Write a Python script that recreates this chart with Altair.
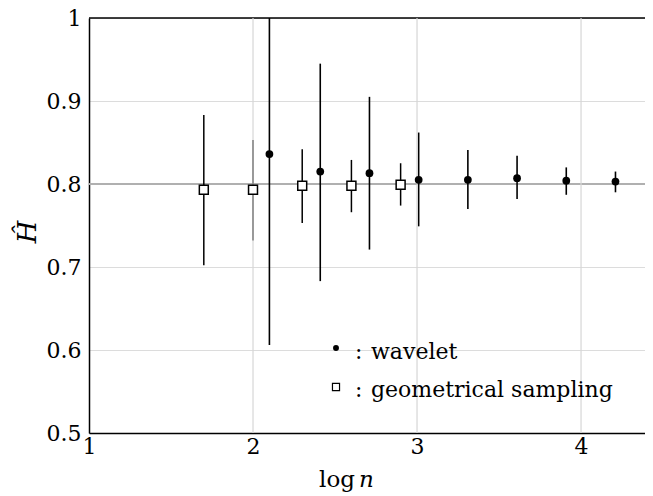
import altair as alt
import pandas as pd

# geometrical sampling estimates
geo_x = [1.70, 2.00, 2.30, 2.60, 2.90]
geo_h = [0.793, 0.793, 0.798, 0.798, 0.799]
geo_lo = [0.702, 0.732, 0.753, 0.766, 0.774]
geo_hi = [0.883, 0.853, 0.842, 0.829, 0.825]

# wavelet estimates
wav_x = [2.10, 2.41, 2.71, 3.01, 3.31, 3.61, 3.91, 4.21]
wav_h = [0.836, 0.815, 0.813, 0.805, 0.805, 0.807, 0.804, 0.803]
wav_lo = [0.606, 0.683, 0.721, 0.749, 0.770, 0.782, 0.787, 0.790]
wav_hi = [1.000, 0.945, 0.905, 0.862, 0.841, 0.834, 0.820, 0.815]

x_ticks = [1, 2, 3, 4]
y_ticks = [0.5, 0.6, 0.7, 0.8, 0.9, 1.0]
h_true = 0.8

W, H = 556, 415
FONT = "DejaVu Serif"

geo = pd.DataFrame({"x": geo_x, "h": geo_h, "lo": geo_lo, "hi": geo_hi})
wav = pd.DataFrame({"x": wav_x, "h": wav_h, "lo": wav_lo, "hi": wav_hi})

xs = alt.Scale(domain=[1, 4.39], nice=False, zero=False)
ys = alt.Scale(domain=[0.5, 1.0], nice=False, zero=False)

xax = alt.Axis(values=x_ticks, format="d", grid=False, ticks=False,
               labelFont=FONT, labelFontSize=22, labelColor="black",
               labelFlush=False, labelOverlap=False,
               labelPadding=3, domainColor="black", domainWidth=1.5, title=None)
yax = alt.Axis(values=y_ticks, format=".1~f", grid=True, gridColor="#dcdcdc",
               gridWidth=1, ticks=False, labelFont=FONT, labelFontSize=22,
               labelFlush=False, labelOverlap=False,
               labelColor="black", labelPadding=8, domainColor="black",
               domainWidth=1.5, title=None)

base_axes = alt.Chart(pd.DataFrame({"x": [1], "h": [0.5]})).mark_point(opacity=0).encode(
    x=alt.X("x:Q", scale=xs, axis=xax),
    y=alt.Y("h:Q", scale=ys, axis=yax),
)

hline = alt.Chart(pd.DataFrame({"h": [h_true]})).mark_rule(
    color="#b0b0b0", strokeWidth=2).encode(y=alt.Y("h:Q", scale=ys))

top = alt.Chart(pd.DataFrame({"h": [1.0]})).mark_rule(
    color="black", strokeWidth=1.5).encode(
    y=alt.Y("h:Q", scale=ys), x=alt.value(0), x2=alt.value(W))

bars_geo = alt.Chart(geo).mark_rule(color="black", strokeWidth=1.5, clip=True).encode(
    x=alt.X("x:Q", scale=xs), y=alt.Y("lo:Q", scale=ys), y2="hi:Q")
bars_wav = alt.Chart(wav).mark_rule(color="black", strokeWidth=1.6, clip=True).encode(
    x=alt.X("x:Q", scale=xs), y=alt.Y("lo:Q", scale=ys), y2="hi:Q")

xgrid = alt.Chart(pd.DataFrame({"x": x_ticks[1:]})).mark_rule(
    color="#d6d6d6", strokeWidth=1.2).encode(x=alt.X("x:Q", scale=xs))

pts_geo = alt.Chart(geo).mark_point(shape="square", filled=True, fill="white",
                                    stroke="black", strokeWidth=1.5, size=80,
                                    opacity=1).encode(
    x=alt.X("x:Q", scale=xs), y=alt.Y("h:Q", scale=ys))
pts_wav = alt.Chart(wav).mark_point(shape="circle", filled=True, color="black",
                                    size=60, opacity=1).encode(
    x=alt.X("x:Q", scale=xs), y=alt.Y("h:Q", scale=ys))

# legend
leg_dot = alt.Chart(pd.DataFrame({"a": [0]})).mark_point(
    shape="circle", filled=True, color="black", size=35, opacity=1).encode(
    x=alt.value(247), y=alt.value(330))
leg_sq = alt.Chart(pd.DataFrame({"a": [0]})).mark_point(
    shape="square", filled=True, fill="white", stroke="black", strokeWidth=1.2,
    size=50, opacity=1).encode(x=alt.value(247), y=alt.value(369))
leg_txt = alt.Chart(pd.DataFrame({
    "t": [":", "wavelet", ":", "geometrical sampling"],
    "px": [266, 282, 266, 282],
    "py": [334, 334, 372, 372],
})).mark_text(font=FONT, fontSize=22, align="left", baseline="middle",
              color="black").encode(
    text="t:N",
    x=alt.X("px:Q", scale=None), y=alt.Y("py:Q", scale=None))

# axis titles
xt1 = alt.Chart(pd.DataFrame({"t": ["log"]})).mark_text(
    font=FONT, fontSize=23, align="right", baseline="alphabetic", color="black").encode(
    text="t:N", x=alt.value(266), y=alt.value(469))
xt2 = alt.Chart(pd.DataFrame({"t": ["n"]})).mark_text(
    font=FONT, fontSize=23, fontStyle="italic", align="left", baseline="alphabetic",
    color="black").encode(text="t:N", x=alt.value(270), y=alt.value(469))
yt = alt.Chart(pd.DataFrame({"t": ["Ĥ"]})).mark_text(
    font=FONT, fontSize=26, fontStyle="italic", align="center", baseline="middle",
    angle=270, color="#000000").encode(text="t:N", x=alt.value(-61), y=alt.value(214))

chart = alt.layer(
    base_axes, hline, top, bars_geo, bars_wav, xgrid, pts_geo, pts_wav,
    leg_dot, leg_sq, leg_txt, xt1, xt2, yt,
).properties(
    width=W, height=H,
    autosize=alt.AutoSizeParams(type="none"),
    padding={"left": 81, "top": 10, "right": 0, "bottom": 62},
).configure_view(stroke=None).configure(background="white")

chart.save("out.html", embed_options={"renderer": "svg", "actions": False})
